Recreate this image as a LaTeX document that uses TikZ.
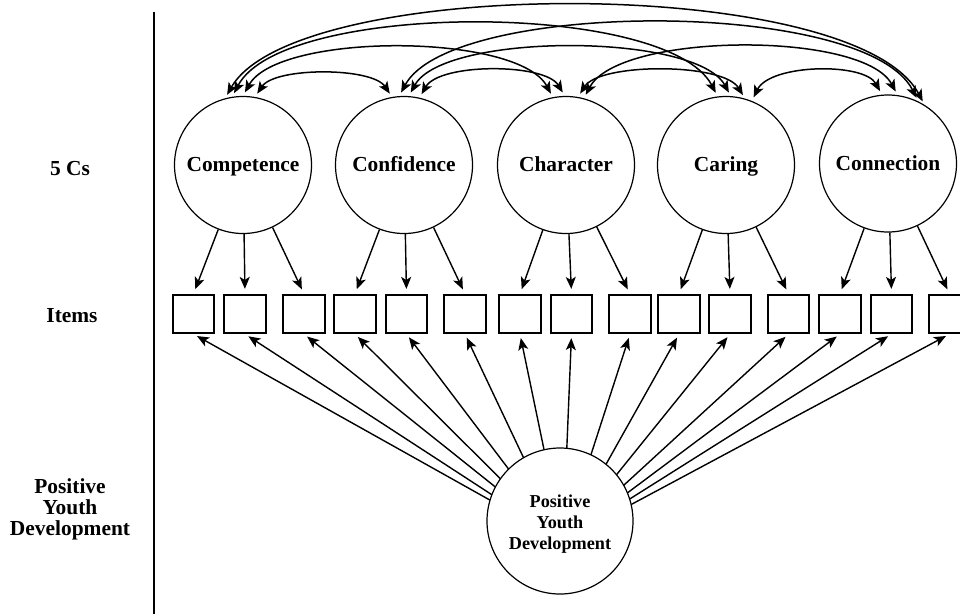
\documentclass[tikz,border=0pt]{standalone}
\usepackage{fontspec}
\setmainfont{Liberation Serif}
\usetikzlibrary{arrows.meta,calc}
\begin{document}
\begin{tikzpicture}[x=1pt,y=-1pt,
  tip/.tip={Stealth[length=12pt,width=10pt,inset=3pt]},
  lat/.style={circle,draw,line width=1.2pt,minimum size=137pt,inner sep=0pt,
    text height=14pt,text depth=0.5pt,
    font=\fontsize{21.4}{21}\selectfont\bfseries},
  pydnode/.style={circle,draw,fill=white,line width=1.2pt,minimum size=146pt,inner sep=0pt},
  pydtext/.style={align=center,inner sep=0pt,font=\fontsize{18.2}{21}\selectfont\bfseries},
  itembox/.style={draw,line width=1.7pt,minimum width=41.5pt,minimum height=38.5pt,inner sep=0pt},
  lbl/.style={align=center,inner sep=0pt,font=\fontsize{21.4}{21}\selectfont\bfseries},
  ar/.style={-tip,line width=1.4pt,shorten >=5pt},
  upar/.style={-tip,line width=1.4pt,shorten >=4pt},
  dar/.style={tip-tip,line width=1.5pt,shorten >=4pt,shorten <=4pt}]
\useasboundingbox (0,0) rectangle (960,614);

% divider and row labels
\coordinate (vt) at (154,12);
\coordinate (vb) at (154,614);
\draw[line width=2.3pt] (vt) -- (vb);
\node[lbl] (l1) at (70,169) {5 Cs};
\node[lbl] (l2) at (72,316) {Items};
\node[lbl] (l3) at (70,509) {Positive\\Youth\\Development};

% five Cs
\node[lat] (c1) at (243,165) {Competence};
\node[lat] (c2) at (404,165) {Confidence};
\node[lat] (c3) at (566,165) {Character};
\node[lat] (c4) at (726,165) {Caring};
\node[lat] (c5) at (888,163.5) {Connection};

% items
\foreach \i/\x in {1/193.5,2/245,3/304,4/355,5/406.5,6/465,7/520,8/571.5,9/630,10/679,11/730,12/788.5,13/840,14/891.5,15/949.5}
  \node[itembox] (b\i) at (\x,314) {};

% loadings from the Cs
\draw[ar] (c1) -- (b1.north);
\draw[ar] (c1) -- (b2.north);
\draw[ar] (c1) -- (b3.north);
\draw[ar] (c2) -- (b4.north);
\draw[ar] (c2) -- (b5.north);
\draw[ar] (c2) -- (b6.north);
\draw[ar] (c3) -- (b7.north);
\draw[ar] (c3) -- (b8.north);
\draw[ar] (c3) -- (b9.north);
\draw[ar] (c4) -- (b10.north);
\draw[ar] (c4) -- (b11.north);
\draw[ar] (c4) -- (b12.north);
\draw[ar] (c5) -- (b13.north);
\draw[ar] (c5) -- (b14.north);
\draw[ar] (c5) -- (b15.north);

% correlations
\draw[dar] (c1.105) .. controls +(70,-123) and +(-70,-131) .. (c5.58);
\draw[dar] (c1.99) .. controls +(50,-96) and +(-50,-96) .. (c4.97.5);
\draw[dar] (c1.90) .. controls +(35,-63.5) and +(-35,-64.7) .. (c3.101);
\draw[dar] (c1.80) .. controls +(20,-30) and +(-20,-30) .. (c2.100);
\draw[dar] (c2.94) .. controls +(52,-96.7) and +(-52,-103.4) .. (c5.64);
\draw[dar] (c2.86) .. controls +(35,-63.7) and +(-35,-63.7) .. (c4.86);
\draw[dar] (c2.77) .. controls +(20,-34.8) and +(-20,-33) .. (c3.91);
\draw[dar] (c3.75) .. controls +(35,-66) and +(-35,-64.5) .. (c5.82);
\draw[dar] (c3.80) .. controls +(22,-34.3) and +(-22,-36) .. (c4.74);
\draw[dar] (c4.68) .. controls +(18,-37.2) and +(-18,-32.5) .. (c5.95);

% general factor
\coordinate (pydf) at (563,541);
\foreach \i in {1,...,15}
  \draw[upar] (pydf) -- (b\i.south);
\node[pydnode] (pyd) at (560,521) {};
\node[pydtext] (pydlabel) at ([yshift=-3pt]pyd.center) {Positive\\Youth\\Development};
\end{tikzpicture}
\end{document}
